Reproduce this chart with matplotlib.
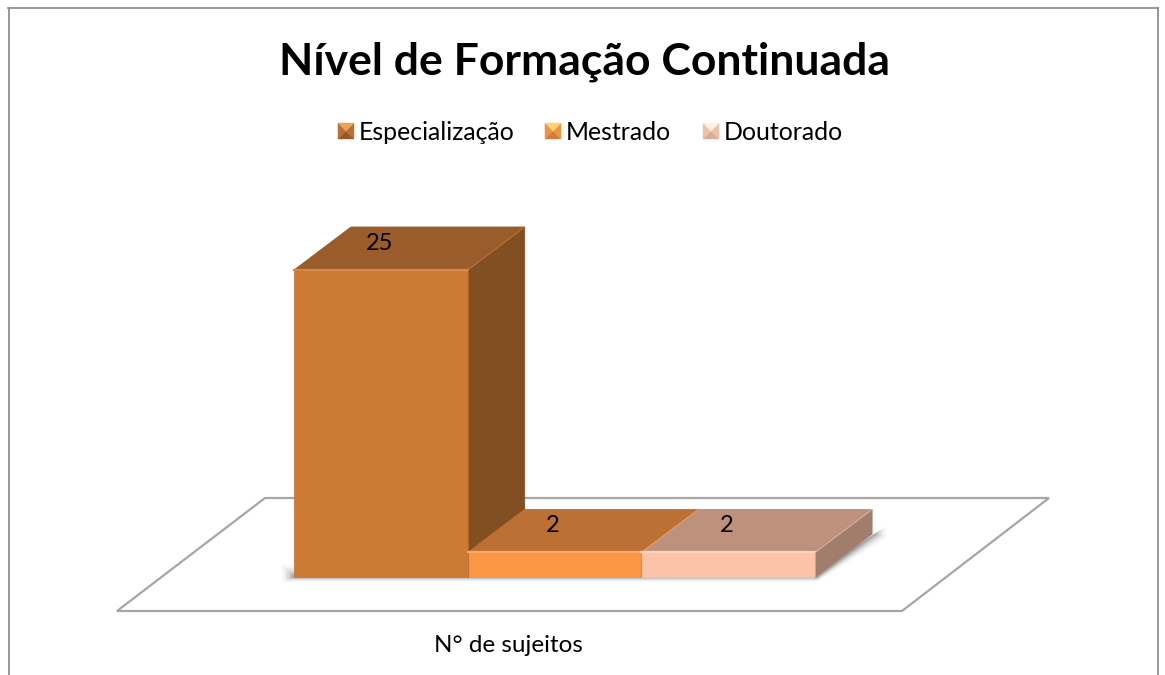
import matplotlib
matplotlib.use("Agg")
import matplotlib.pyplot as plt
from matplotlib.patches import Polygon, Rectangle
from matplotlib.lines import Line2D

title = "Nível de Formação Continuada"
categories = ["Especialização", "Mestrado", "Doutorado"]
values = [25, 2, 2]
axis_label = "N° de sujeitos"

front = ["#CB7B36", "#FA9644", "#FCC3A9"]
top = ["#9A5C2A", "#BC7033", "#BD917C"]
side = ["#824F23", "#C87838", "#A07D6C"]
highlight = ["#D58A4A", "#FCA763", "#FDD0BC"]

W, H = 1165, 675
PX_X = 173.7      # pixels per category
PX_Y = 12.28      # pixels per unit
X0, Y0 = 294, 577 # pixel of the origin
DX = 57 / PX_X    # depth offset
DY = 43 / PX_Y
BAR_W = 1.0

fig = plt.figure(figsize=(W / 100, H / 100), dpi=100, facecolor="white")
ax = fig.add_axes([0, 0, 1, 1])
ax.set_xlim(-X0 / PX_X, (W - X0) / PX_X)
ax.set_ylim((Y0 - H) / PX_Y, Y0 / PX_Y)
ax.axis("off")


def px(x, y):
    return (x - X0) / PX_X, (Y0 - y) / PX_Y


font = ["Lato", "DejaVu Sans"]

# frame
for a, b in [((8, 8), (1158, 8)), ((8.5, 8), (8.5, 675)), ((1158, 8), (1158, 675))]:
    ax.add_line(Line2D(*zip(px(*a), px(*b)), color="#909090", lw=1.3))

# floor
ax.add_patch(Polygon([px(117, 611), px(902, 611), px(1049, 498), px(265, 498)],
                     closed=True, fc="white", ec="#A6A6A6", lw=1.6))

# soft shadow beneath the bars
n = len(values)
for grow, alpha in [(12, 0.05), (9, 0.07), (7, 0.09), (5, 0.12), (3, 0.16), (1.5, 0.22)]:
    ax.add_patch(Polygon([px(294 - grow, 577 + grow * 0.4),
                          px(294 + n * PX_X + 2, 577 + grow * 0.4),
                          px(294 + n * PX_X + 57 + grow + 2, 577 - 43 + grow * 0.3),
                          px(294 + n * PX_X + 57 + grow + 2, 577 - 43 - grow * 0.6),
                          px(294 + n * PX_X, 577 - grow),
                          px(294 - grow, 577 - grow)],
                         closed=True, fc="#505050", ec="none", alpha=alpha))

# 3D bars
for i, v in enumerate(values):
    l, r = i, i + BAR_W
    ax.add_patch(Polygon([(l, v), (r, v), (r + DX, v + DY), (l + DX, v + DY)],
                         closed=True, fc=top[i], ec=top[i], lw=0.6))
    ax.add_patch(Polygon([(r, 0), (r + DX, DY), (r + DX, v + DY), (r, v)],
                         closed=True, fc=side[i], ec=side[i], lw=0.6))
    ax.add_patch(Rectangle((l, 0), BAR_W, v, fc=front[i], ec=front[i], lw=0.6))
    ax.add_line(Line2D([l, r], [v, v], color=highlight[i], lw=1.6))
    ax.add_line(Line2D([r, r + DX], [v, v + DY], color=highlight[i], lw=0.8, alpha=0.6))
    ax.add_line(Line2D([r, r], [0, v], color=top[i], lw=0.8, alpha=0.6))
    ax.text(i + 0.49, v + 2.17, str(v),
            ha="center", va="center", fontsize=17, family=font, color="black")

# texts
ax.text(*px(584.5, 62), title, ha="center", va="center", fontsize=32,
        fontweight="bold", family=font, color="black")
ax.text(*px(508.5, 645), axis_label, ha="center", va="center", fontsize=17.5,
        family=font, color="black")

# legend
leg_x = [338, 545, 703]
leg_txt = [359, 566, 724]
leg_colors = [("#E8A558", "#B87038", "#95592A", "#B87038"),
              ("#FFD27A", "#F09445", "#D07E38", "#F09445"),
              ("#FFF0E6", "#EBC2AC", "#D9AE97", "#EBC2AC")]
for x, tx, name, (c_t, c_s, c_b, c_l) in zip(leg_x, leg_txt, categories, leg_colors):
    s = 16
    yt, yb = 123, 139
    cx, cy = x + s / 2, yt + 8
    tri = [([(x, yb), (x + s, yb)], c_b), ([(x, yt), (x, yb)], c_l),
           ([(x + s, yt), (x + s, yb)], c_s), ([(x, yt), (x + s, yt)], c_t)]
    for pts, c in tri:
        ax.add_patch(Polygon([px(*pts[0]), px(*pts[1]), px(cx, cy)],
                             closed=True, fc=c, ec=c, lw=0.3))
    ax.text(*px(tx, 132), name, ha="left", va="center", fontsize=17.9,
            family=font, color="black")

fig.savefig("out.png", dpi=100, facecolor="white")
